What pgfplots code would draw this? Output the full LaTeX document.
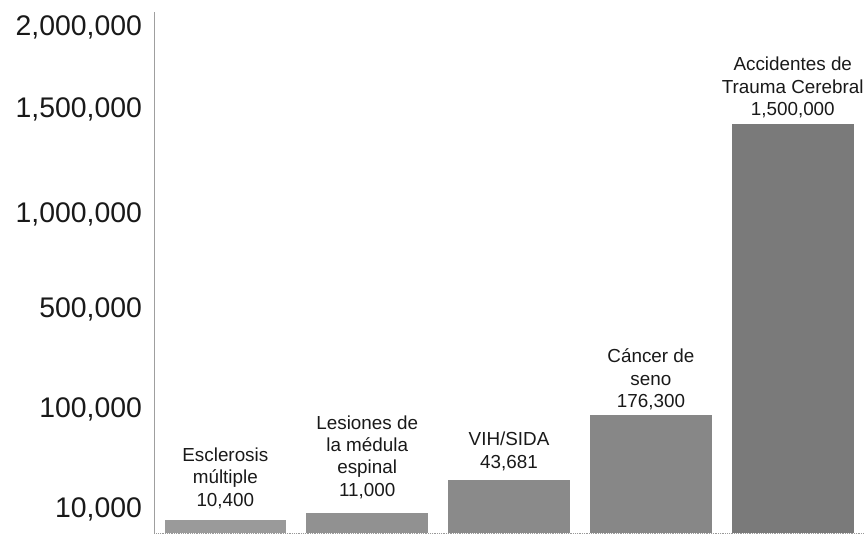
\documentclass[border=0pt]{standalone}
\usepackage{fontspec}
\setmainfont{Liberation Sans}
\usepackage{pgfplots}
\pgfplotsset{compat=1.18}
\definecolor{barA}{HTML}{9A9A9A}
\definecolor{barB}{HTML}{919191}
\definecolor{barC}{HTML}{8A8A8A}
\definecolor{barD}{HTML}{878787}
\definecolor{barE}{HTML}{7A7A7A}
\begin{document}
\begin{tikzpicture}
\begin{axis}[
  scale only axis, width=712bp, height=523bp,
  xmin=-0.5, xmax=4.5, ymin=0, ymax=523,
  axis x line*=bottom, axis y line*=left,
  x axis line style={-, densely dotted, gray!80, line width=0.8bp},
  y axis line style={-, gray!75, line width=1.3bp},
  xtick=\empty,
  ytick={24,124,224,320,425,507},
  yticklabels={{10,000},{100,000},{500,000},{1,000,000},{1,500,000},{2,000,000}},
  major tick length=0pt,
  /pgf/number format/assume math mode=true,
  yticklabel style={font=\fontsize{28.6}{30}\selectfont, text=black!90, xshift=-9bp},
  ybar, bar width=0.857, bar shift=0pt,
  nodes near coords, point meta=explicit symbolic,
  every node near coord/.append style={align=center, font=\fontsize{19}{22.5}\selectfont, text=black!90, anchor=south, yshift=2bp},
  clip=false,
]
\coordinate (O) at (rel axis cs:0,0);
\addplot[fill=barA, draw=none, every node near coord/.append style={yshift=6bp}] coordinates {(0,13) [Esclerosis\\múltiple\\10,400]};
\addplot[fill=barB, draw=none, every node near coord/.append style={yshift=9bp}] coordinates {(1,20) [Lesiones de\\la médula\\espinal\\11,000]};
\addplot[fill=barC, draw=none, every node near coord/.append style={yshift=4bp}] coordinates {(2,53) [VIH/SIDA\\43,681]};
\addplot[fill=barD, draw=none] coordinates {(3,118) [Cáncer de\\seno\\176,300]};
\addplot[fill=barE, draw=none] coordinates {(4,411) [Accidentes de\\Trauma Cerebral\\1,500,000]};
\end{axis}
\path (O) ++(-155bp,-2bp) rectangle ++(867bp,537bp);
\end{tikzpicture}
\end{document}
